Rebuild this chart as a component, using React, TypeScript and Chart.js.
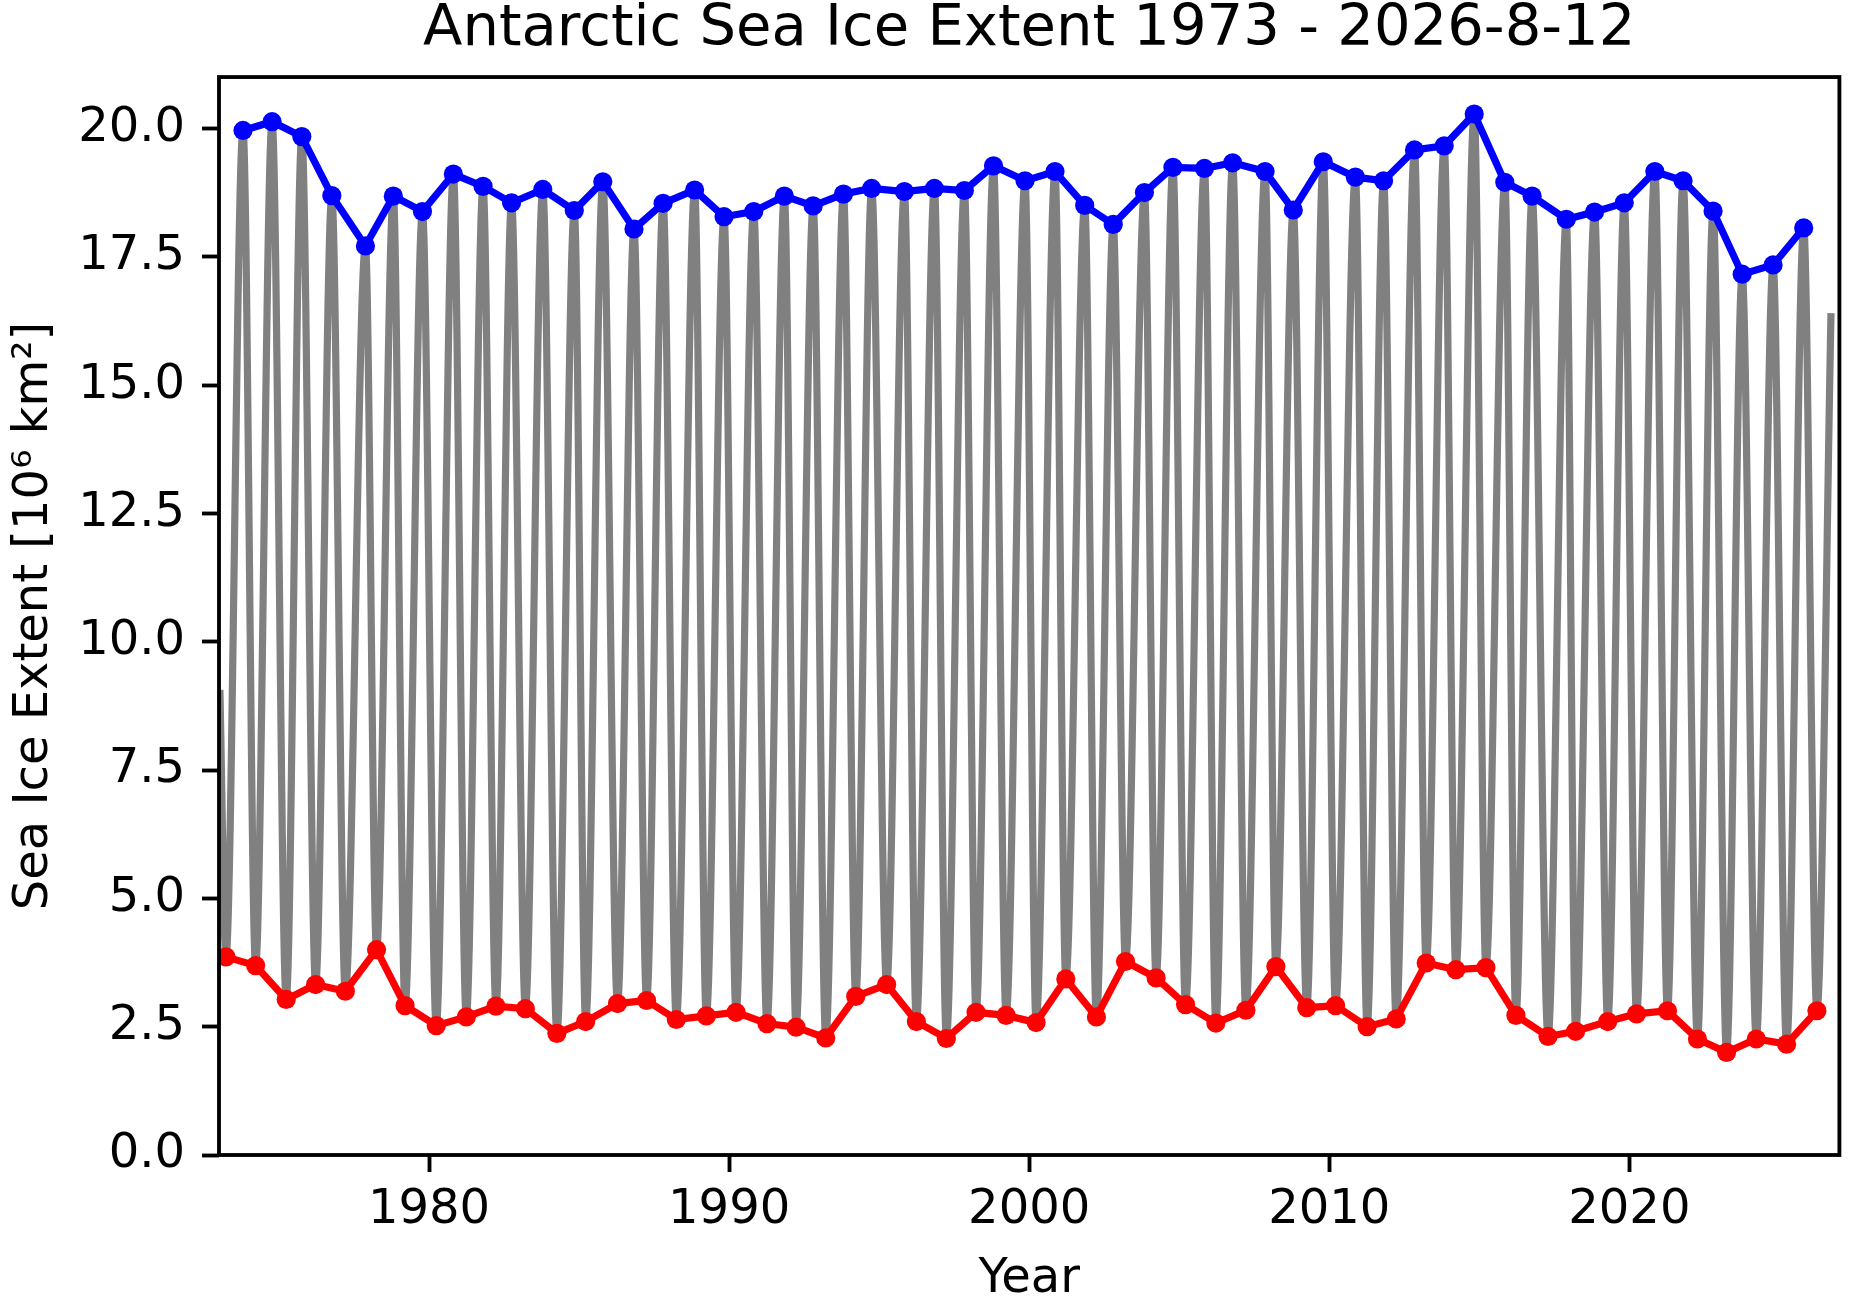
import { useEffect, useRef } from 'react';
import { Chart, registerables } from 'chart.js';
import type { Plugin } from 'chart.js';

Chart.register(...registerables);

// Annual maximum (blue): decimal year of the max and extent [10^6 km^2]
const maxYear = [
  1973.8, 1974.77, 1975.76, 1976.76, 1977.88, 1978.81, 1979.78, 1980.81, 1981.8, 1982.75,
  1983.79, 1984.84, 1985.79, 1986.83, 1987.8, 1988.85, 1989.83, 1990.82, 1991.84, 1992.8,
  1993.81, 1994.75, 1995.84, 1996.84, 1997.84, 1998.81, 1999.86, 2000.86, 2001.85, 2002.8,
  2003.84, 2004.79, 2005.84, 2006.78, 2007.86, 2008.8, 2009.8, 2010.87, 2011.81, 2012.84,
  2013.83, 2014.83, 2015.85, 2016.76, 2017.9, 2018.84, 2019.83, 2020.85, 2021.79, 2022.79,
  2023.76, 2024.79, 2025.81,
];
const maxExtent = [
  19.96, 20.13, 19.84, 18.69, 17.71, 18.68, 18.38, 19.11, 18.87, 18.55,
  18.81, 18.4, 18.96, 18.04, 18.54, 18.8, 18.28, 18.38, 18.68, 18.49,
  18.72, 18.83, 18.77, 18.83, 18.79, 19.27, 18.98, 19.16, 18.5, 18.13,
  18.75, 19.24, 19.22, 19.33, 19.16, 18.41, 19.35, 19.05, 18.98, 19.58,
  19.66, 20.28, 18.95, 18.68, 18.23, 18.37, 18.55, 19.16, 18.98, 18.39,
  17.16, 17.34, 18.06,
];

// Annual minimum (red)
const minYear = [
  1973.23, 1974.22, 1975.24, 1976.22, 1977.21, 1978.25, 1979.2, 1980.24, 1981.24, 1982.23,
  1983.21, 1984.26, 1985.22, 1986.28, 1987.25, 1988.24, 1989.24, 1990.23, 1991.26, 1992.23,
  1993.22, 1994.22, 1995.25, 1996.24, 1997.24, 1998.23, 1999.23, 2000.23, 2001.22, 2002.24,
  2003.21, 2004.23, 2005.21, 2006.22, 2007.22, 2008.22, 2009.25, 2010.21, 2011.26, 2012.23,
  2013.23, 2014.22, 2015.22, 2016.22, 2017.29, 2018.21, 2019.28, 2020.24, 2021.27, 2022.27,
  2023.24, 2024.23, 2025.24, 2026.25,
];
const minExtent = [
  3.86, 3.69, 3.03, 3.32, 3.19, 4.0, 2.91, 2.52, 2.69, 2.9,
  2.85, 2.37, 2.6, 2.95, 3.01, 2.64, 2.71, 2.78, 2.56, 2.49,
  2.28, 3.09, 3.32, 2.6, 2.27, 2.78, 2.72, 2.58, 3.43, 2.69,
  3.77, 3.45, 2.93, 2.57, 2.82, 3.67, 2.87, 2.91, 2.5, 2.65,
  3.74, 3.61, 3.65, 2.72, 2.31, 2.41, 2.6, 2.75, 2.81, 2.26,
  2.0, 2.26, 2.16, 2.81,
];

// first and last value of the daily record
const recordStart = { x: 1973.03, y: 9.06 };
const recordEnd = { x: 2026.72, y: 16.4 };

const FONT = 'DejaVu Sans';
const LW = 7.2;

// box around the plot area, like matplotlib spines
const framePlugin: Plugin = {
  id: 'frame',
  afterDatasetsDraw(chart) {
    const { ctx, chartArea: a } = chart;
    ctx.save();
    ctx.strokeStyle = '#000';
    ctx.lineWidth = 3.84;
    ctx.strokeRect(a.left, a.top, a.right - a.left, a.bottom - a.top);
    ctx.restore();
  },
};

export default function App() {
  const canvasRef = useRef<HTMLCanvasElement>(null);

  useEffect(() => {
    document.body.style.margin = '0';
    if (!canvasRef.current) return;

    const daily: { x: number; y: number }[] = [recordStart];
    minYear.forEach((x, i) => {
      daily.push({ x, y: minExtent[i] });
      if (i < maxYear.length) daily.push({ x: maxYear[i], y: maxExtent[i] });
    });
    daily.push(recordEnd);

    const tickGrid = {
      display: true,
      drawOnChartArea: false,
      drawTicks: true,
      tickLength: 17,
      tickWidth: 3.84,
      tickColor: '#000',
    };

    const chart = new Chart(canvasRef.current, {
      type: 'line',
      data: {
        datasets: [
          {
            label: 'max',
            data: maxYear.map((x, i) => ({ x, y: maxExtent[i] })),
            borderColor: '#0000ff',
            backgroundColor: '#0000ff',
            borderWidth: LW,
            pointRadius: 9.6,
            pointBorderWidth: 0,
            order: 1,
          },
          {
            label: 'min',
            data: minYear.map((x, i) => ({ x, y: minExtent[i] })),
            borderColor: '#ff0000',
            backgroundColor: '#ff0000',
            borderWidth: LW,
            pointRadius: 9.6,
            pointBorderWidth: 0,
            order: 1,
          },
          {
            label: 'extent',
            data: daily,
            borderColor: '#808080',
            borderWidth: LW,
            pointRadius: 0,
            cubicInterpolationMode: 'monotone',
            order: 3,
          },
        ],
      },
      options: {
        responsive: false,
        animation: false,
        devicePixelRatio: 1,
        layout: { padding: { top: 0, left: 0, right: 3, bottom: 0 } },
        plugins: {
          legend: { display: false },
          tooltip: { enabled: false },
          title: {
            display: true,
            text: 'Antarctic Sea Ice Extent 1973 - 2026-8-12',
            color: '#000',
            fullSize: false,
            font: { family: FONT, size: 57.6, weight: 'normal', lineHeight: 1.06 },
            padding: { top: 0, bottom: 16 },
          },
        },
        scales: {
          x: {
            type: 'linear',
            min: 1973,
            max: 2027,
            grid: tickGrid,
            border: { display: false },
            ticks: {
              stepSize: 10,
              includeBounds: false,
              padding: 10,
              color: '#000',
              font: { family: FONT, size: 48 },
              callback: (v) => String(v),
            },
            title: {
              display: true,
              text: 'Year',
              color: '#000',
              font: { family: FONT, size: 48, lineHeight: 1.0 },
              padding: { top: 0, bottom: 2 },
            },
            afterFit: (scale) => {
              scale.height = 151;
            },
          },
          y: {
            type: 'linear',
            min: 0,
            max: 21,
            grid: tickGrid,
            border: { display: false },
            ticks: {
              stepSize: 2.5,
              includeBounds: false,
              padding: 17,
              color: '#000',
              font: { family: FONT, size: 48 },
              callback: (v) => Number(v).toFixed(1),
            },
            title: {
              display: true,
              text: 'Sea Ice Extent [10⁶ km²]',
              color: '#000',
              font: { family: FONT, size: 48 },
              padding: { top: 6, bottom: 0 },
            },
            afterFit: (scale) => {
              scale.width = 219;
            },
          },
        },
      },
      plugins: [framePlugin],
    });

    return () => chart.destroy();
  }, []);

  return (
    <div style={{ width: 1849, height: 1306, background: '#fff' }}>
      <canvas ref={canvasRef} width={1849} height={1306} />
    </div>
  );
}
